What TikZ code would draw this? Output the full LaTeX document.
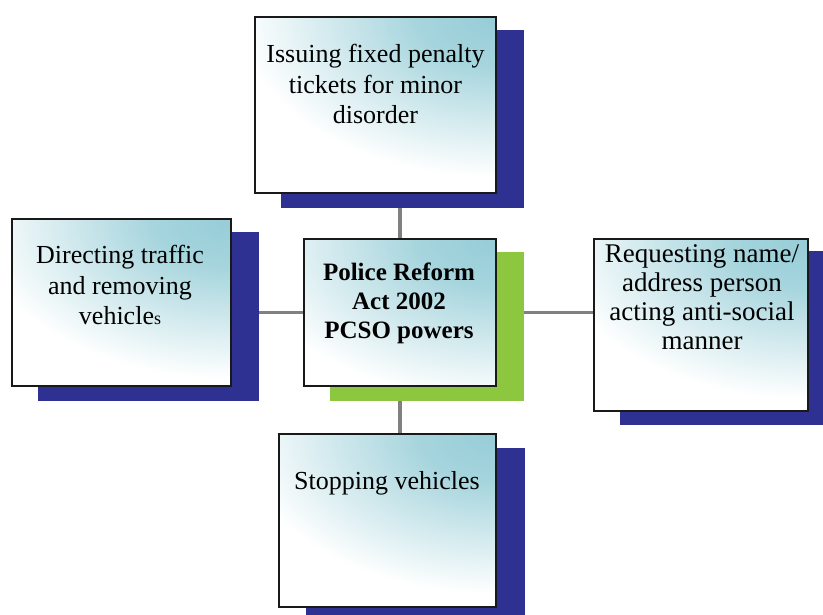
\documentclass[tikz,border=0pt]{standalone}
\usepackage{fontspec}
\setmainfont{Liberation Serif}
\usetikzlibrary{backgrounds}
\definecolor{shblue}{RGB}{46,49,146}
\definecolor{shgreen}{RGB}{141,198,63}
\definecolor{boxcyan}{RGB}{150,205,215}
\definecolor{linkgray}{RGB}{128,128,128}
\pgfdeclareradialshading{boxglow}{\pgfpoint{0bp}{0bp}}{%
  color(0bp)=(boxcyan); color(6bp)=(boxcyan!85!white); color(20bp)=(white); color(50bp)=(white)}
\begin{document}
\begin{tikzpicture}[x=1pt,y=-1pt,
  box/.style={draw=black!90, line width=1.8pt, inner sep=0pt, fill=white,
    path picture={\shade[shading=boxglow]
      (path picture bounding box.north east) ellipse [x radius=320pt, y radius=200pt];}},
  txt/.style={align=center, inner sep=0pt, anchor=north,
    font=\fontsize{26}{30.5}\selectfont},
  link/.style={draw=linkgray, line width=3.5pt}]
\useasboundingbox (0,0) rectangle (823,615);
% boxes
\node[box, minimum width=241pt, minimum height=176pt] (A) at (375.5,105) {};
\node[box, minimum width=219pt, minimum height=167pt] (B) at (121.5,302.5) {};
\node[box, minimum width=192pt, minimum height=147pt] (C) at (400,312.5) {};
\node[box, minimum width=214pt, minimum height=172pt] (D) at (701,325) {};
\node[box, minimum width=217pt, minimum height=173pt] (E) at (387.5,520.5) {};
% texts
\node[txt] (At) at (375.5,44) {Issuing fixed penalty\\tickets for minor\\disorder};
\node[txt] (Bt) at (120,245) {Directing traffic\\and removing\\vehicle{\fontsize{18}{30}\selectfont s}};
\node[txt, font=\fontsize{25}{29}\selectfont\bfseries] (Ct) at (399,263) {Police Reform\\Act 2002\\PCSO powers};
\node[txt, font=\fontsize{27}{29.3}\selectfont] (Dt) at (702,244) {Requesting name/\\address person\\acting anti-social\\manner};
\node[txt] (Et) at (387,471) {Stopping vehicles};
\begin{scope}[on background layer]
  % connectors
  \draw[link] (C.north) -- (C.north |- A.south);
  \draw[link] (C.south) -- (C.south |- E.north);
  \draw[link] (C.west) -- (C.west -| B.east);
  \draw[link] (C.east) -- (C.east -| D.west);
  % shadows
  \fill[shblue] ([shift={(27,14)}]A.south west) rectangle ([shift={(27,14)}]A.north east);
  \fill[shblue] ([shift={(27,14)}]B.south west) rectangle ([shift={(27,14)}]B.north east);
  \fill[shgreen] ([shift={(27,14)}]C.south west) rectangle ([shift={(27,14)}]C.north east);
  \fill[shblue] ([shift={(27,13)}]D.south west) rectangle ([shift={(27,13)}]D.north east);
  \fill[shblue] ([shift={(28,15)}]E.south west) rectangle ([shift={(28,15)}]E.north east);
\end{scope}
\end{tikzpicture}
\end{document}
